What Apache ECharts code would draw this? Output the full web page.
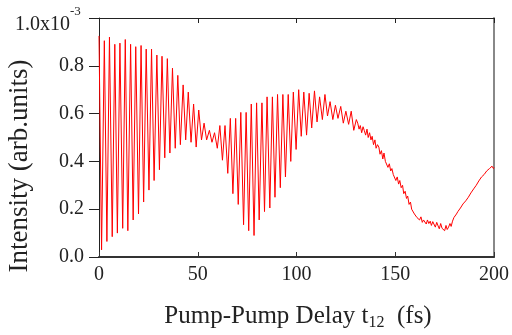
<!DOCTYPE html>
<html>
<head>
<meta charset="utf-8">
<script src="https://cdn.jsdelivr.net/npm/echarts@6/dist/echarts.min.js"></script>
<style>html,body{margin:0;padding:0;background:#fff}#c{width:512px;height:335px}</style>
</head>
<body>
<div id="c"></div>
<script>
// Pump-pump delay (fs)
var timeFs = [
0,1.3,2.7,4.0,5.3,6.7,8.0,9.3,10.6,12.0,13.3,14.6,16.0,17.3,18.6,20.0,21.3,22.6,23.9,25.3,
26.6,27.9,29.3,30.6,31.9,33.3,34.6,35.9,37.2,38.6,39.9,41.2,42.6,43.9,45.2,46.6,47.9,49.2,50.5,51.9,
53.2,54.5,55.9,57.2,58.5,59.9,61.2,62.5,63.8,65.2,66.5,67.8,69.2,70.5,71.8,73.2,74.5,75.8,77.1,78.5,
79.8,81.1,82.5,83.8,85.1,86.5,87.8,89.1,90.4,91.8,93.1,94.4,95.8,97.1,98.4,99.8,101.1,102.4,103.7,105.1,
106.4,107.7,109.1,110.4,111.7,113.1,114.4,115.7,117.0,118.4,119.7,121.0,122.4,123.7,125.0,126.4,127.7,129.0,130.3,
131.0,131.7,132.3,133.0,133.7,134.3,135.0,135.7,136.3,137.0,137.7,138.3,139.0,139.7,140.3,141.0,141.7,142.3,143.0,143.7,
144.3,145.0,145.7,146.3,147.0,147.7,148.3,149.0,149.7,150.3,151.0,151.7,152.3,153.0,153.7,154.3,155.0,155.7,156.3,157.0,
157.7,158.3,159.0,159.7,160.3,161.0,161.7,162.3,163.0,163.7,164.3,165.0,165.7,166.3,167.0,167.7,168.3,169.0,169.7,170.3,
171.0,171.7,172.3,173.0,173.7,174.3,175.0,175.7,176.3,177.0,177.7,178.3,179.0,179.7,180.3,181.0,181.7,182.3,183.0,183.7,
184.3,185.0,185.7,186.3,187.0,187.7,188.3,189.0,189.7,190.3,191.0,191.7,192.3,193.0,193.7,194.3,195.0,195.7,196.3,197.0,
197.7,198.3,199.0,199.7,200.0
];
// Intensity (x10^-3 arb. units)
var intensity = [
0.925,0.03,0.905,0.065,0.92,0.085,0.89,0.10,0.895,0.12,0.91,0.11,0.89,0.155,0.88,0.18,0.885,0.23,0.87,0.28,
0.87,0.32,0.845,0.365,0.84,0.415,0.83,0.435,0.79,0.455,0.76,0.47,0.72,0.49,0.69,0.48,0.64,0.46,0.615,0.49,
0.56,0.49,0.53,0.48,0.52,0.455,0.55,0.405,0.55,0.35,0.58,0.265,0.58,0.22,0.605,0.135,0.605,0.11,0.64,0.09,
0.645,0.155,0.645,0.19,0.67,0.205,0.67,0.25,0.68,0.29,0.68,0.335,0.68,0.40,0.69,0.45,0.70,0.505,0.69,0.51,
0.685,0.54,0.695,0.565,0.67,0.575,0.68,0.59,0.65,0.575,0.635,0.58,0.63,0.56,0.61,0.555,0.61,0.53,0.575,
0.56,0.535,0.55,0.52,0.545,0.53,0.51,0.535,0.50,0.52,0.49,0.505,0.47,0.49,0.455,0.47,0.46,0.43,0.445,0.41,
0.435,0.40,0.405,0.375,0.39,0.36,0.37,0.345,0.35,0.32,0.335,0.305,0.32,0.29,0.30,0.265,0.275,0.245,0.255,0.22,
0.23,0.20,0.205,0.18,0.185,0.165,0.17,0.155,0.168,0.145,0.155,0.15,0.138,0.155,0.14,0.15,0.132,0.148,0.14,0.125,
0.145,0.13,0.118,0.14,0.12,0.128,0.11,0.132,0.115,0.125,0.14,0.128,0.15,0.165,0.16,0.18,0.19,0.185,0.205,0.20,
0.222,0.215,0.235,0.228,0.25,0.242,0.268,0.26,0.285,0.28,0.30,0.298,0.318,0.31,0.335,0.33,0.345,0.34,0.36,0.355,
0.37,0.365,0.38,0.37,0.375
];
var xTicks = [0, 50, 100, 150, 200];
var yTicks = [0.0, 0.2, 0.4, 0.6, 0.8, 1.0];

var serif = '"Liberation Serif", "Times New Roman", serif';
var chart = echarts.init(document.getElementById('c'), null, {renderer: 'canvas'});
var pts = timeFs.map(function (t, i) { return [t, intensity[i]]; });

chart.setOption({
  animation: false,
  backgroundColor: '#fff',
  grid: {left: 99, right: 14, top: 18, bottom: 78, containLabel: false},
  xAxis: [{
    type: 'value', position: 'bottom',
    min: xTicks[0], max: xTicks[xTicks.length - 1], interval: 50,
    axisLine: {show: true, onZero: false, lineStyle: {color: '#333', width: 2}},
    axisTick: {show: true, inside: true, length: 5, lineStyle: {color: '#333', width: 1}},
    axisLabel: {fontFamily: serif, fontSize: 20, color: '#222', margin: 8},
    splitLine: {show: false}
  }, {
    type: 'value', position: 'top',
    min: xTicks[0], max: xTicks[xTicks.length - 1], interval: 50,
    axisLine: {show: true, onZero: false, lineStyle: {color: '#222', width: 1}},
    axisTick: {show: true, inside: true, length: 5, lineStyle: {color: '#222', width: 1}},
    axisLabel: {show: false},
    splitLine: {show: false}
  }],
  yAxis: [{
    type: 'value', position: 'left',
    min: yTicks[0], max: yTicks[yTicks.length - 1], interval: 0.2,
    axisLine: {show: true, onZero: false, lineStyle: {color: '#222', width: 1}},
    axisTick: {show: true, inside: false, length: 10, lineStyle: {color: '#222', width: 1}},
    axisLabel: {
      fontFamily: serif, fontSize: 20, color: '#222', margin: 15,
      formatter: function (v) {
        if (Math.abs(v - 1) < 1e-9) return '';
        return v.toFixed(1);
      }
    },
    splitLine: {show: false}
  }, {
    type: 'value', position: 'right',
    min: yTicks[0], max: yTicks[yTicks.length - 1], interval: 0.2,
    axisLine: {show: true, onZero: false, lineStyle: {color: '#888', width: 2}},
    axisTick: {show: false}, axisLabel: {show: false}, splitLine: {show: false}
  }],
  series: [{
    type: 'line', xAxisIndex: 0, yAxisIndex: 0,
    data: pts, showSymbol: false, symbol: 'none', sampling: null,
    lineStyle: {color: '#ff0000', width: 1},
    emphasis: {disabled: true}
  }],
  graphic: [{
    type: 'text', x: 70, y: 25,
    style: {
      text: yTicks[yTicks.length - 1].toFixed(1) + 'x10',
      fontFamily: serif, fontSize: 20, fill: '#222',
      align: 'right', verticalAlign: 'middle'
    }
  }, {
    type: 'text', x: 70, y: 12,
    style: {
      text: '-3',
      fontFamily: serif, fontSize: 13, fill: '#222',
      align: 'left', verticalAlign: 'middle'
    }
  }, {
    type: 'text', x: 298, y: 316,
    style: {
      text: 'Pump-Pump Delay t{sub|12}  (fs)',
      fontFamily: serif, fontSize: 25, fill: '#222',
      align: 'center', verticalAlign: 'middle',
      rich: {sub: {fontFamily: serif, fontSize: 16, fill: '#222', padding: [14, 0, 0, 0]}}
    }
  }, {
    type: 'text', x: 20, y: 166, rotation: Math.PI / 2,
    style: {
      text: 'Intensity (arb.units)',
      fontFamily: serif, fontSize: 27, fill: '#222',
      align: 'center', verticalAlign: 'middle'
    }
  }]
});
</script>
</body>
</html>
